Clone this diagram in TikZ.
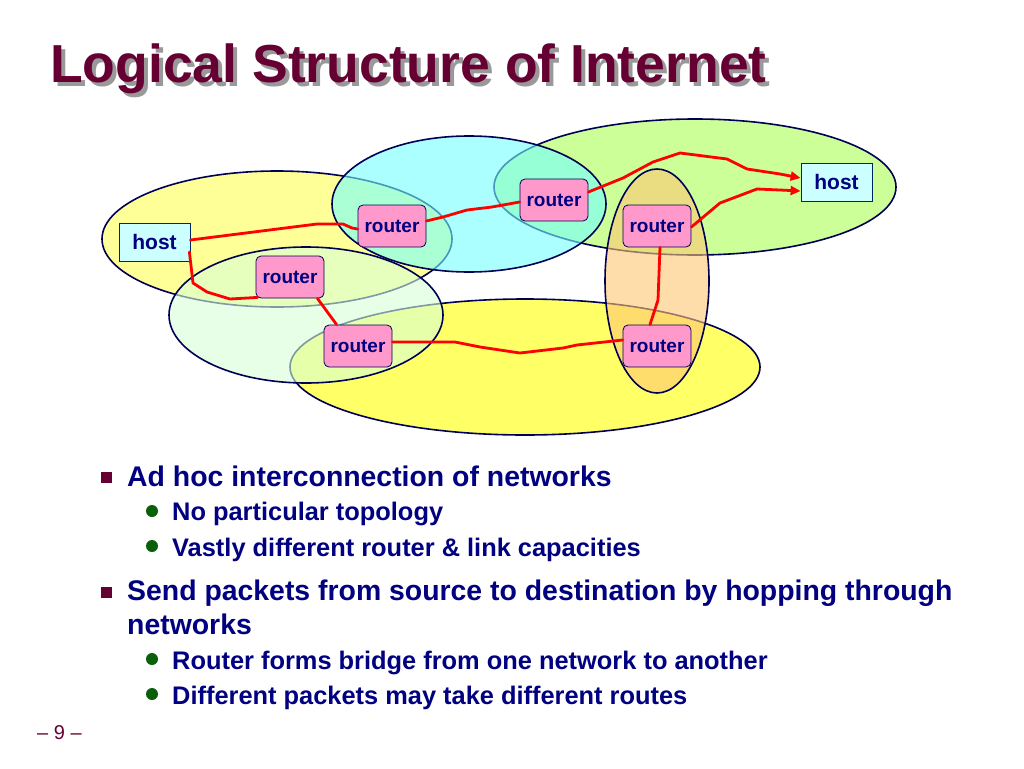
\documentclass[tikz,border=0pt]{standalone}
\usepackage{fontspec}
\setmainfont{Liberation Sans}
\usetikzlibrary{arrows.meta}
\definecolor{titlered}{HTML}{660033}
\definecolor{navy}{HTML}{000080}
\definecolor{edgeblue}{HTML}{000055}
\definecolor{bgreen}{HTML}{0A600A}
\definecolor{ylwA}{rgb}{1,1,0.33}
\definecolor{cyanA}{rgb}{0.45,1,1}
\definecolor{grnA}{rgb}{0.67,1,0.33}
\definecolor{mintA}{rgb}{0.84,1,0.84}
\definecolor{ylwB}{rgb}{1,1,0}
\definecolor{orgA}{rgb}{1,0.78,0.45}
\definecolor{hostfill}{HTML}{CCFFFF}
\definecolor{routerfill}{HTML}{FF99CC}
\newcommand{\shadowtext}[1]{\makebox[0pt][l]{\hspace{4pt}\raisebox{-4pt}{\color{black!40}#1}}#1}
\tikzset{
  net/.style={draw=edgeblue, line width=1.6pt, fill opacity=0.6},
  hostbox/.style={draw=edgeblue!70!teal, line width=0.8pt, fill=hostfill, minimum width=71pt, minimum height=38pt, inner sep=0pt, font=\bfseries\fontsize{21}{24}\selectfont, text=navy},
  routerbox/.style={draw=edgeblue, line width=0.8pt, fill=routerfill, rounded corners=5pt, minimum width=68pt, minimum height=42pt, inner sep=0pt, font=\bfseries\fontsize{19}{22}\selectfont, text=navy},
  link/.style={draw=red, line width=2.8pt, line join=round, line cap=round},
  arrowlink/.style={link, -{Triangle[length=10pt,width=9pt]}},
  mainitem/.style={anchor=base west, inner sep=0pt, font=\bfseries\fontsize{28.4}{32}\selectfont, text=navy},
  subitem/.style={anchor=base west, inner sep=0pt, font=\bfseries\fontsize{25.4}{30}\selectfont, text=navy},
}
\begin{document}
\begin{tikzpicture}[x=1pt, y=-1pt]
\fill[white] (0,0) rectangle (1024,768);
\useasboundingbox (0,0) rectangle (1024,768);

% title with shadow
\node[anchor=base west, inner sep=0pt, font=\bfseries\fontsize{53.5}{60}\selectfont, text=titlered] (title) at (50,82) {\shadowtext{Logical Structure of Internet}};

% networks
\draw[net, fill=grnA] (695,187) ellipse [x radius=201, y radius=68];
\draw[net, fill=ylwB] (525,367) ellipse [x radius=235, y radius=68];
\draw[net, fill=ylwA] (277,239) ellipse [x radius=175, y radius=68];
\draw[net, fill=cyanA] (469,204) ellipse [x radius=137, y radius=68];
\draw[net, fill=mintA] (306,315) ellipse [x radius=137, y radius=68];
\draw[net, fill=orgA] (657,281) ellipse [x radius=52, y radius=112];

% hosts and routers
\node[hostbox] (hostL) at (154.5,242) {host};
\node[hostbox] (hostR) at (836.5,182) {host};
\node[routerbox] (r1) at (392,226) {router};
\node[routerbox] (r2) at (290,277) {router};
\node[routerbox] (r3) at (358,346) {router};
\node[routerbox] (r4) at (554,200) {router};
\node[routerbox] (r5) at (657,226) {router};
\node[routerbox] (r6) at (657,346) {router};

% links
\draw[link] ([yshift=2pt]hostL.east) -- (317,224) -- (343,224) -- (352,228) -- ([yshift=-3pt]r1.west);
\draw[link] ([yshift=5pt]r1.east) -- (443,217) -- (467,210) -- (492,207) -- ([yshift=-2pt]r4.west);
\draw[arrowlink] ([yshift=8pt]r4.east) -- (623,178) -- (653,162) -- (680,153) -- (727,159) -- (747,169) -- (780,174) -- ([yshift=4pt]hostR.west);
\draw[arrowlink] ([yshift=-1pt]r5.east) -- (720,203) -- (757,189) -- (780,190) -- ([yshift=-9pt]hostR.west);
\draw[link] ([xshift=3pt]r5.south) -- (658,300) -- ([xshift=-7pt]r6.north);
\draw[link] ([xshift=-1pt,yshift=-10pt]hostL.east) -- (193,283) -- (207,292) -- (230,299) -- ([xshift=2pt,yshift=1pt]r2.south west);
\draw[link] ([xshift=-7pt]r2.south east) -- ([xshift=13pt]r3.north west);
\draw[link] ([yshift=4pt]r3.east) -- (455,342) -- (480,347) -- (520,353) -- (563,348) -- (577,345) -- ([yshift=6pt]r6.west);

% bullets
\fill[titlered] (101,472) rectangle (112,483);
\node[mainitem] (b1) at (127,486) {Ad hoc interconnection of networks};
\fill[bgreen] (152,511) circle (6);
\node[subitem] (b11) at (172,520) {No particular topology};
\fill[bgreen] (152,546) circle (6);
\node[subitem] (b12) at (172,556) {Vastly different router \& link capacities};
\fill[titlered] (101,587) rectangle (112,598);
\node[mainitem] (b2) at (127,600) {Send packets from source to destination by hopping through};
\node[mainitem] (b2b) at (127,634) {networks};
\fill[bgreen] (152,659) circle (6);
\node[subitem] (b21) at (172,669) {Router forms bridge from one network to another};
\fill[bgreen] (152,694) circle (6);
\node[subitem] (b22) at (172,704) {Different packets may take different routes};

\node[anchor=base west, inner sep=0pt, font=\fontsize{20}{22}\selectfont, text=titlered] (page) at (37,739) {– 9 –};
\end{tikzpicture}
\end{document}
